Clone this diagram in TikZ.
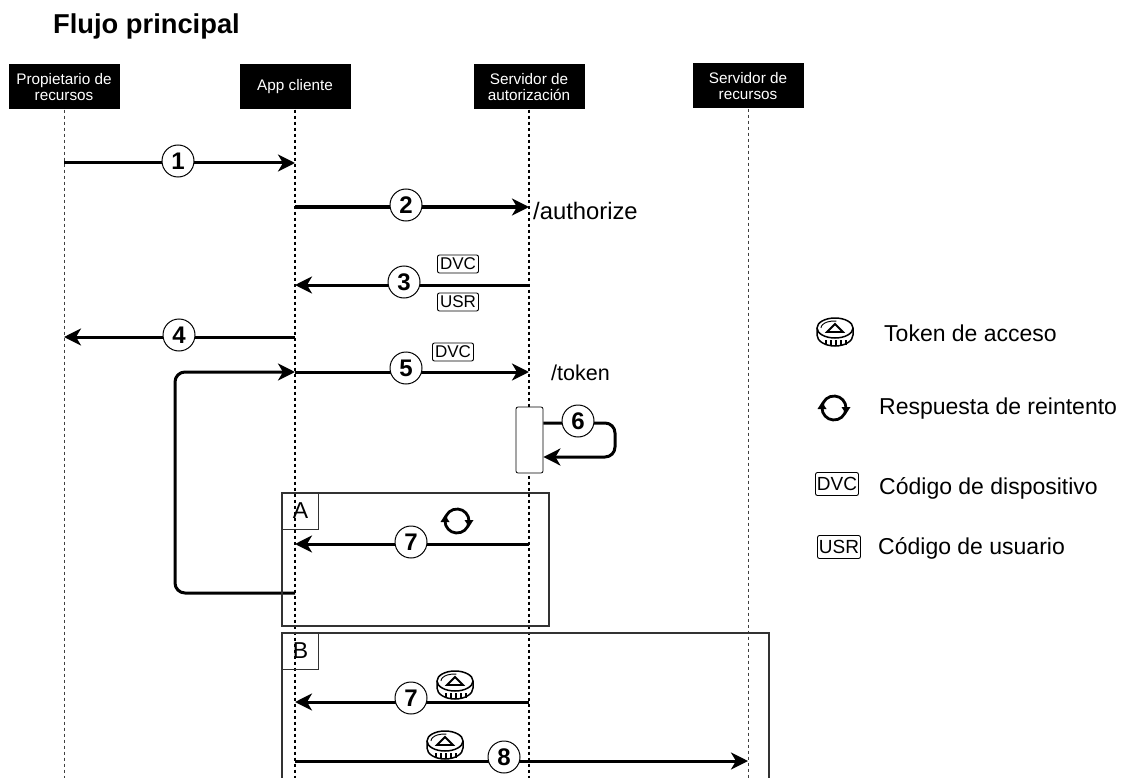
\documentclass[tikz,border=0pt]{standalone}
\usepackage{fontspec}
\setmainfont{Liberation Sans}
\usetikzlibrary{arrows.meta}
\definecolor{Frame}{RGB}{50,50,50}
\newcommand{\Fs}[1]{\fontsize{#1}{#1}\selectfont}
\tikzset{
  coin/.pic={
    \path[draw=black, fill=white, line width=1.5pt]
      (-18,-4) -- (-18,3) arc[start angle=180, end angle=360, x radius=18pt, y radius=11pt]
      -- (18,-4) arc[start angle=0, end angle=180, x radius=18pt, y radius=10pt];
    \draw[line width=1.5pt] (-18,-4) arc[start angle=180, end angle=360, x radius=18pt, y radius=10pt];
    \foreach \tx in {-9,-4,1,6,11} \draw[line width=1.2pt] (\tx,8) -- (\tx,13);
    \draw[line width=.9pt] (-14,-4) arc[start angle=180, end angle=80, x radius=13pt, y radius=7pt];
    \draw[line width=1.8pt, line join=miter] (-8,0) -- (0,-8) -- (8,0) -- cycle;
  },
  retry/.pic={
    \draw[line width=2.8pt] (175:12pt) arc[start angle=175, end angle=0, radius=12pt];
    \draw[line width=2.8pt] (355:12pt) arc[start angle=355, end angle=180, radius=12pt];
    \fill (7.5,-1) -- (16.5,-1) -- (12,6) -- cycle;
    \fill (-7.5,1) -- (-16.5,1) -- (-12,-6) -- cycle;
  }
}
\begin{document}
\begin{tikzpicture}[
  x=1pt, y=-1pt,
  head/.style={fill=black, text=white, align=center, minimum width=111pt, minimum height=45pt, inner sep=0pt, font=\Fs{15.3}},
  life/.style={dashed, dash pattern=on 3pt off 3pt, line width=.9pt, black!75},
  lifedark/.style={life, line width=1.2pt, black},
  msg/.style={line width=3pt, -{Stealth[length=17pt,width=17pt,inset=5pt]}},
  num/.style={circle, draw=black, fill=white, line width=1pt, minimum size=32pt, inner sep=0pt, font=\Fs{24}\bfseries},
  label/.style={anchor=west, inner sep=0pt, font=\Fs{23}},
  tag/.style={draw=black, rounded corners=2pt, line width=.9pt, inner sep=0pt, minimum width=41pt, minimum height=18pt, font=\Fs{17}},
  tagbig/.style={tag, minimum width=43pt, minimum height=23pt, font=\Fs{19}},
  frame/.style={draw=Frame, line width=1.4pt},
  tab/.style={frame, line width=1pt, minimum size=36pt, inner sep=0pt, font=\Fs{23}},
]
  \useasboundingbox (0,0) rectangle (1121,778);

  \node[anchor=west, inner sep=0pt, font=\Fs{27.3}\bfseries] (title) at (53,26) {Flujo principal};

  \node[head] (owner) at (64,87) {Propietario de\\recursos};
  \node[head] (app) at (295,87) {App cliente};
  \node[head] (auth) at (529,87) {Servidor de\\autorización};
  \node[head] (res) at (748,86) {Servidor de\\recursos};

  \coordinate (ownerEnd) at (64,778);
  \coordinate (appEnd) at (295,778);
  \coordinate (authEnd) at (529,778);
  \coordinate (resEnd) at (748,778);
  \draw[life] (owner.south) -- (ownerEnd);
  \draw[lifedark] (app.south) -- (appEnd);
  \draw[lifedark] (auth.south) -- (authEnd);
  \draw[life] (res.south) -- (resEnd);

  \coordinate (a1) at (64,163);   \coordinate (b1) at (295,163);
  \coordinate (a2) at (295,207);  \coordinate (b2) at (529,207);
  \coordinate (a3) at (529,285);  \coordinate (b3) at (295,285);
  \coordinate (a4) at (295,337);  \coordinate (b4) at (64,337);
  \coordinate (a5) at (295,372);  \coordinate (b5) at (529,372);
  \coordinate (a7) at (529,544);  \coordinate (b7) at (295,544);
  \coordinate (c7) at (529,702);  \coordinate (d7) at (295,702);
  \coordinate (a8) at (295,761);  \coordinate (b8) at (748,761);
  \coordinate (retryStart) at (295,593);
  \coordinate (retryEnd) at (295,372);

  \draw[msg] (a1) -- (b1);
  \draw[msg] (a2) -- (b2);
  \draw[msg] (a3) -- (b3);
  \draw[msg] (a4) -- (b4);
  \draw[msg] (a5) -- (b5);
  \draw[msg] (a7) -- (b7);
  \draw[msg] (c7) -- (d7);
  \draw[msg] (a8) -- (b8);
  \draw[msg, rounded corners=10pt] (retryStart) -- (175,593) -- (175,372) -- (retryEnd);

  \node[draw=black, fill=white, rounded corners=2pt, line width=.8pt, minimum width=27pt, minimum height=66pt, inner sep=0pt] (act) at (529.5,440) {};
  \coordinate (selfOut) at (act.east |- 0,423);
  \coordinate (selfIn) at (act.east |- 0,457);
  \draw[msg, rounded corners=10pt] (selfOut) -- (615,423) -- (615,457) -- (selfIn);

  \draw[frame] (282,493) rectangle (549,626);
  \node[tab, anchor=north west, inner xsep=0pt] (tabA) at (282,493) {\raisebox{1.5pt}{A}};
  \draw[frame] (282,778) -- (282,633) -- (769,633) -- (769,778);
  \node[tab, anchor=north west] (tabB) at (282,633) {\raisebox{1.5pt}{B}};

  \node[num] (n1) at (178,161) {1};
  \node[num] (n2) at (406,205) {2};
  \node[num] (n3) at (404,282) {3};
  \node[num] (n4) at (179,335) {4};
  \node[num] (n5) at (406,368) {5};
  \node[num] (n6) at (578,421) {6};
  \node[num] (n7a) at (411,542) {7};
  \node[num] (n7b) at (411,698) {7};
  \node[num] (n8) at (504,757) {8};

  \node[label, font=\Fs{23.8}] (authorize) at (533,211) {/authorize};
  \node[label, font=\Fs{21.5}] (token) at (551,373) {/token};

  \node[tag] (dvc3) at (458,264) {DVC};
  \node[tag] (usr3) at (458,302) {USR};
  \node[tag] (dvc5) at (453,352) {DVC};

  \pic at (457,521) {retry};
  \pic at (455,685) {coin};
  \pic at (445,745) {coin};

  \pic at (835,332) {coin};
  \pic at (834,408) {retry};
  \node[tagbig] (dvcKey) at (837,484) {DVC};
  \node[tagbig] (usrKey) at (839,547) {USR};
  \node[label] (tokenText) at (884,333) {Token de acceso};
  \node[label] (retryText) at (879,409) {Respuesta de reintento};
  \node[label] (dvcText) at (879,488) {Código de dispositivo};
  \node[label] (usrText) at (878,548) {Código de usuario};
\end{tikzpicture}
\end{document}
